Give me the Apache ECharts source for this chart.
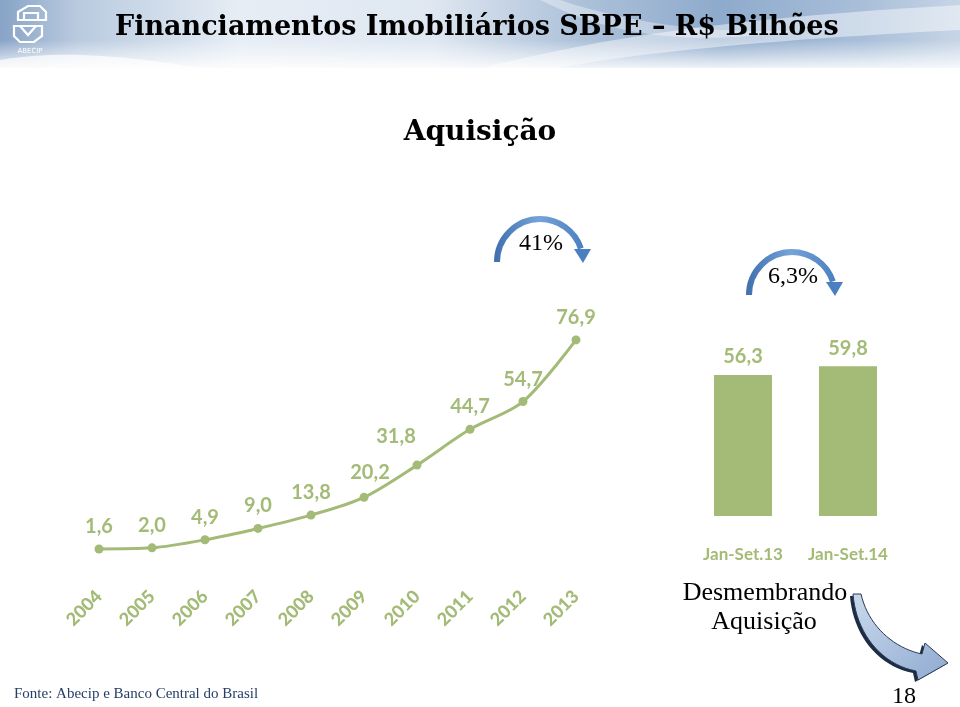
<!DOCTYPE html>
<html><head><meta charset="utf-8">
<script src="https://cdn.jsdelivr.net/npm/echarts@6/dist/echarts.min.js"></script>
<style>html,body{margin:0;padding:0;background:#fff}#c{width:960px;height:707px}</style>
</head><body><div id="c"></div>
<script>
// ---- data ----
const years = ['2004','2005','2006','2007','2008','2009','2010','2011','2012','2013'];
const acquisition = [1.6, 2.0, 4.9, 9.0, 13.8, 20.2, 31.8, 44.7, 54.7, 76.9];
const periods = ['Jan-Set.13', 'Jan-Set.14'];
const periodValues = [56.3, 59.8];
const growthYearly = '41%';
const growthPeriod = '6,3%';
const titleText = 'Financiamentos Imobiliários SBPE – R$ Bilhões';
const subtitleText = 'Aquisição';
const noteLines = ['Desmembrando', 'Aquisição'];
const sourceText = 'Fonte: Abecip e Banco Central do Brasil';
const pageNumber = '18';

// ---- style ----
const G = '#A3BB76';
const fmt = v => Number(v).toFixed(1).replace('.', ',');
const labelOffsets = {6: [-21, -6], 5: [6, -2]};

// sample a cubic bezier into points (decoration shapes only)
function bez(p0, p1, p2, p3, n) {
  const pts = [];
  for (let i = 0; i <= n; i++) {
    const t = i / n, u = 1 - t;
    pts.push([
      u*u*u*p0[0] + 3*u*u*t*p1[0] + 3*u*t*t*p2[0] + t*t*t*p3[0],
      u*u*u*p0[1] + 3*u*u*t*p1[1] + 3*u*t*t*p2[1] + t*t*t*p3[1]
    ]);
  }
  return pts;
}

const chart = echarts.init(document.getElementById('c'), null, {renderer: 'canvas'});

const headerGrad = new echarts.graphic.LinearGradient(0, 0, 1, 0, [
  {offset: 0, color: '#87a3c6'},
  {offset: 0.08, color: '#b9cadf'},
  {offset: 0.25, color: '#e6edf5'},
  {offset: 0.45, color: '#dfe7f1'},
  {offset: 0.6, color: '#aec2da'},
  {offset: 0.75, color: '#8eaacc'},
  {offset: 0.9, color: '#a9bfd9'},
  {offset: 1, color: '#c7d5e6'}
]);
const fadeGrad = new echarts.graphic.LinearGradient(0, 0, 0, 1, [
  {offset: 0, color: 'rgba(255,255,255,0)'},
  {offset: 1, color: 'rgba(255,255,255,0.85)'}
]);
const arcGrad = new echarts.graphic.LinearGradient(0, 0, 1, 0, [
  {offset: 0, color: '#3f6fae'},
  {offset: 0.5, color: '#76a3d8'},
  {offset: 1, color: '#4a7fc0'}
]);
const bigArrowGrad = new echarts.graphic.LinearGradient(0, 0, 1, 1, [
  {offset: 0, color: '#c9d9ec'},
  {offset: 1, color: '#8faad0'}
]);

function growthArc(cx, cy, r, text) {
  return [
    {type: 'arc', shape: {cx: cx, cy: cy, r: r, startAngle: Math.PI, endAngle: 2 * Math.PI - 0.32, clockwise: true},
     style: {stroke: arcGrad, lineWidth: 6, fill: null}},
    {type: 'polygon', shape: {points: [[cx + r - 9, cy - 13], [cx + r + 8, cy - 13], [cx + r, cy + 1]]},
     style: {fill: '#4a7fc0'}},
    {type: 'text', x: cx + 1, y: cy - 18,
     style: {text: text, font: '24px "Liberation Serif"', fill: '#000', align: 'center', verticalAlign: 'middle'}}
  ];
}

const arrowPts = [].concat(
  bez([853, 594], [856, 632], [880, 664], [916, 671], 20),
  [[918, 680], [948, 663], [925, 643], [922, 654]],
  bez([922, 654], [893, 648], [868, 625], [861, 594], 20)
);
const swoosh1 = [].concat(bez([480, 68], [600, 40], [700, 20], [960, 5], 24), bez([960, 30], [760, 40], [620, 55], [560, 68], 24));
const swoosh2 = [].concat(bez([560, 0], [620, 20], [700, 35], [800, 30], 24), bez([800, 30], [700, 45], [620, 40], [540, 0], 24));
const swoosh3 = [].concat(bez([0, 60], [60, 50], [120, 55], [200, 68], 20), [[0, 68]]);

const logoStyle = {stroke: '#fff', lineWidth: 2.2, fill: null};
const graphics = [
  {type: 'rect', shape: {x: 0, y: 0, width: 960, height: 68}, style: {fill: headerGrad}},
  {type: 'polygon', shape: {points: swoosh1}, style: {fill: 'rgba(255,255,255,0.45)'}},
  {type: 'polygon', shape: {points: swoosh2}, style: {fill: 'rgba(255,255,255,0.35)'}},
  {type: 'polygon', shape: {points: swoosh3}, style: {fill: 'rgba(255,255,255,0.7)'}},
  {type: 'rect', shape: {x: 0, y: 40, width: 960, height: 28}, style: {fill: fadeGrad}},
  // logo
  {type: 'polygon', shape: {points: [[18, 12], [28, 6], [40, 6], [46, 12], [46, 20], [18, 20]]}, style: logoStyle},
  {type: 'polyline', shape: {points: [[24, 20], [24, 13], [38, 13], [38, 20]]}, style: logoStyle},
  {type: 'polygon', shape: {points: [[14, 26], [42, 26], [42, 36], [34, 42], [20, 42], [14, 36]]}, style: logoStyle},
  {type: 'polyline', shape: {points: [[20, 26], [28, 35], [36, 26]]}, style: logoStyle},
  {type: 'text', x: 30, y: 51, style: {text: 'ABECIP', font: '7px "DejaVu Sans"', fill: '#fff', align: 'center', verticalAlign: 'middle'}},
  // title
  {type: 'text', x: 115, y: 28, style: {text: titleText, font: 'bold 27px "DejaVu Serif"', fill: '#000', align: 'left', verticalAlign: 'middle'}},
  {type: 'text', x: 480, y: 133, style: {text: subtitleText, font: 'bold 28px "DejaVu Serif"', fill: '#000', align: 'center', verticalAlign: 'middle'}}
].concat(
  growthArc(540, 262, 43, growthYearly),
  growthArc(792, 295, 43, growthPeriod),
  [
  {type: 'text', x: 765, y: 593, style: {text: noteLines[0], font: '26px "Liberation Serif"', fill: '#000', align: 'center', verticalAlign: 'middle'}},
  {type: 'text', x: 764, y: 622, style: {text: noteLines[1], font: '26px "Liberation Serif"', fill: '#000', align: 'center', verticalAlign: 'middle'}},
  // big curved arrow
  {type: 'polygon', x: -3, y: 2, shape: {points: arrowPts}, style: {fill: '#1d2c45'}},
  {type: 'polygon', shape: {points: arrowPts}, style: {fill: bigArrowGrad, stroke: '#2a3a55', lineWidth: 1}},
  {type: 'text', x: 14, y: 694, style: {text: sourceText, font: '15px "Liberation Serif"', fill: '#243f66', align: 'left', verticalAlign: 'middle'}},
  {type: 'text', x: 904, y: 697, style: {text: pageNumber, font: '24px "Liberation Serif"', fill: '#000', align: 'center', verticalAlign: 'middle'}}
  ]
);

chart.setOption({
  animation: false,
  backgroundColor: '#fff',
  grid: [
    {left: 72.5, top: 275.8, width: 530, height: 277.6},
    {left: 690.5, top: 265.5, width: 210, height: 250.5}
  ],
  xAxis: [
    {type: 'category', gridIndex: 0, data: years, axisLine: {show: false}, axisTick: {show: false},
     axisLabel: {rotate: 45, margin: 40, color: G, fontFamily: 'Lato', fontWeight: 900, fontSize: 18}},
    {type: 'category', gridIndex: 1, data: periods, axisLine: {show: false}, axisTick: {show: false},
     axisLabel: {margin: 30, color: G, fontFamily: 'Lato', fontWeight: 'bold', fontSize: 17}}
  ],
  yAxis: [
    {type: 'value', gridIndex: 0, min: 0, max: 100, show: false},
    {type: 'value', gridIndex: 1, min: 0, max: 100, show: false}
  ],
  series: [
    {type: 'line', xAxisIndex: 0, yAxisIndex: 0, smooth: 0.3,
     data: acquisition.map((v, i) => labelOffsets[i] ? {value: v, label: {offset: labelOffsets[i]}} : v),
     symbol: 'circle', symbolSize: 9, lineStyle: {width: 3, color: G}, itemStyle: {color: G},
     label: {show: true, position: 'top', distance: 8, color: G, fontFamily: 'Lato', fontWeight: 'bold', fontSize: 20,
             formatter: p => fmt(p.value)}},
    {type: 'bar', xAxisIndex: 1, yAxisIndex: 1, data: periodValues, barWidth: 58, itemStyle: {color: G},
     label: {show: true, position: 'top', distance: 8, color: G, fontFamily: 'Lato', fontWeight: 'bold', fontSize: 20,
             formatter: p => fmt(p.value)}}
  ],
  graphic: graphics
});
</script></body></html>
